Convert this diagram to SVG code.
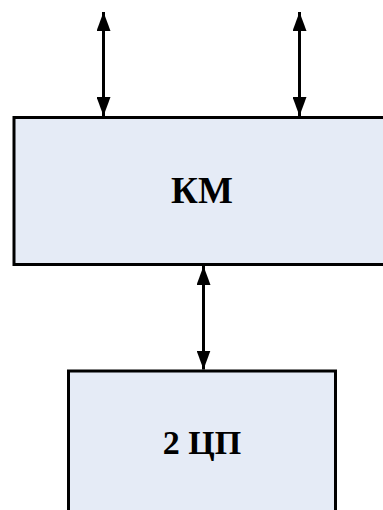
<svg xmlns="http://www.w3.org/2000/svg" width="383" height="510" viewBox="0 0 383 510">
  <style>
    .box { fill: #E5EBF6; stroke: #000; stroke-width: 3; }
    .lbl { font-family: "Liberation Serif", "Times New Roman", serif; font-weight: bold; fill: #000; text-anchor: middle; }
    .link { stroke: #000; stroke-width: 3; fill: none; }
  </style>
  <defs>
    <marker id="head" markerUnits="userSpaceOnUse" markerWidth="19" markerHeight="14" refX="19" refY="7" orient="auto-start-reverse" viewBox="0 0 19 14">
      <path d="M0,0 L19,7 L0,14 Z" fill="#000"/>
    </marker>
  </defs>

  <g id="km">
    <rect class="box" x="14" y="117.5" width="375" height="147"/>
    <text class="lbl" x="202" y="203" font-size="37">КМ</text>
  </g>

  <g id="cpu2">
    <rect class="box" x="68.5" y="371" width="267" height="150"/>
    <text class="lbl" x="202" y="454" font-size="34">2 ЦП</text>
  </g>

  <g id="connectors">
    <line class="link" x1="103.5" y1="12" x2="103.5" y2="116" marker-start="url(#head)" marker-end="url(#head)"/>
    <line class="link" x1="299.5" y1="12" x2="299.5" y2="116" marker-start="url(#head)" marker-end="url(#head)"/>
    <line class="link" x1="203.5" y1="266" x2="203.5" y2="369.5" marker-start="url(#head)" marker-end="url(#head)"/>
  </g>
</svg>
